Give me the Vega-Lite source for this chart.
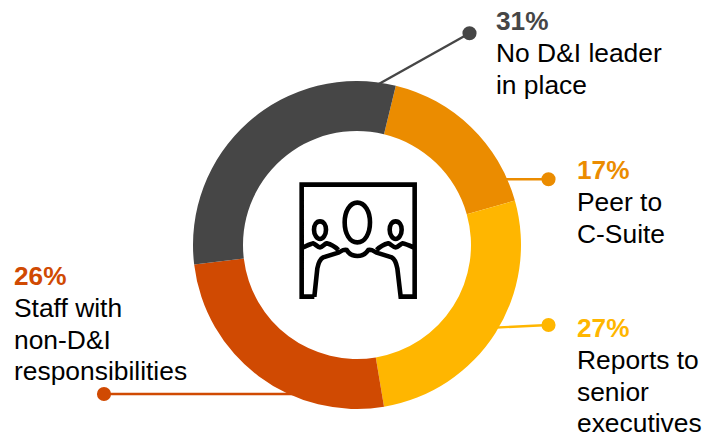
{
  "$schema": "https://vega.github.io/schema/vega-lite/v6.json",
  "width": 719,
  "height": 434,
  "padding": 0,
  "autosize": "none",
  "background": "white",
  "config": {"view": {"stroke": null}},
  "data": {
    "values": [
      {"category": "Peer to\nC-Suite", "share": 0.17, "rank": 1, "labelX": 220, "labelY": 66, "dotX": 191.5, "dotY": 65.7, "lineX": 130, "lineY": 65.7},
      {"category": "Reports to\nsenior\nexecutives", "share": 0.27, "rank": 2, "labelX": 220, "labelY": -92, "dotX": 191.5, "dotY": -80, "lineX": 130, "lineY": -83},
      {"category": "Staff with\nnon-D&I\nresponsibilities", "share": 0.26, "rank": 3, "labelX": -343, "labelY": -40, "dotX": -253, "dotY": -149, "lineX": -60, "lineY": -149},
      {"category": "No D&I leader\nin place", "share": 0.31, "rank": 4, "labelX": 139, "labelY": 215, "dotX": 112.5, "dotY": 211.7, "lineX": 20, "lineY": 160}
    ]
  },
  "encoding": {
    "color": {
      "field": "category",
      "type": "nominal",
      "legend": null,
      "scale": {
        "domain": ["Peer to\nC-Suite", "Reports to\nsenior\nexecutives", "Staff with\nnon-D&I\nresponsibilities", "No D&I leader\nin place"],
        "range": ["#EB8C00", "#FFB600", "#D04A02", "#464646"]
      }
    }
  },
  "layer": [
    {
      "mark": {"type": "rule", "strokeWidth": 2.4},
      "encoding": {
        "x": {"field": "lineX", "type": "quantitative", "axis": null, "scale": {"domain": [-357, 362], "nice": false, "zero": false}},
        "y": {"field": "lineY", "type": "quantitative", "axis": null, "scale": {"domain": [-189, 245], "nice": false, "zero": false}},
        "x2": {"field": "dotX"},
        "y2": {"field": "dotY"}
      }
    },
    {
      "mark": {"type": "arc", "innerRadius": 114, "outerRadius": 164},
      "encoding": {
        "x": {"datum": 0, "type": "quantitative"},
        "y": {"datum": 0, "type": "quantitative"},
        "theta": {"field": "share", "type": "quantitative", "stack": true, "scale": {"range": [0.239, 6.522]}},
        "order": {"field": "rank", "type": "quantitative"}
      }
    },
    {
      "mark": {"type": "point", "filled": true, "opacity": 1, "size": 200},
      "encoding": {
        "x": {"field": "dotX", "type": "quantitative"},
        "y": {"field": "dotY", "type": "quantitative"}
      }
    },
    {
      "mark": {"type": "text", "align": "left", "baseline": "alphabetic", "font": "Liberation Sans", "fontSize": 26.2, "fontWeight": "bold"},
      "encoding": {
        "x": {"field": "labelX", "type": "quantitative"},
        "y": {"field": "labelY", "type": "quantitative"},
        "text": {"field": "share", "type": "quantitative", "format": ".0%"}
      }
    },
    {
      "mark": {"type": "text", "align": "left", "baseline": "alphabetic", "font": "Liberation Sans", "fontSize": 26.4, "dy": 32, "lineBreak": "\n", "lineHeight": 31.7},
      "encoding": {
        "x": {"field": "labelX", "type": "quantitative"},
        "y": {"field": "labelY", "type": "quantitative"},
        "text": {"field": "category", "type": "nominal"},
        "color": {"value": "#000000"}
      }
    },
    {
      "data": {"values": [{"icon": "meeting room", "cx": 0, "cy": 0}]},
      "mark": {
        "type": "point",
        "filled": false,
        "opacity": 1,
        "size": 0.4444,
        "stroke": "#000000",
        "strokeWidth": 4.6,
        "shape": "M-128 155 L-166 155 L-166 -181 L173 -181 L173 155 L131 155 L121 70 C118 55 114 42 104 37 L59 23 C52 20 44 12 34 15 C24 30 12 33 1 33 C-10 33 -22 30 -31 15 C-41 12 -49 20 -56 23 L-101 37 C-110 42 -116 55 -119 70 L-128 155 M-162 7 C-150 2 -140 -3 -131 -5 C-125 -3 -118 7 -111 7 C-104 7 -98 -3 -91 -5 C-78 -2 -65 6 -56 15 M59 15 C68 6 81 -2 94 -5 C101 -3 109 7 116 7 C123 7 130 -3 136 -5 C147 -3 158 2 169 7 M1 -127 C-22 -127 -37 -100 -37 -68 C-37 -34 -22 -8 1 -8 C24 -8 39 -34 39 -68 C39 -100 24 -127 1 -127 Z M-111 -71 C-122 -71 -129 -60 -129 -46 C-129 -31 -120 -18 -111 -18 C-102 -18 -93 -31 -93 -46 C-93 -60 -100 -71 -111 -71 Z M116 -71 C105 -71 98 -60 98 -46 C98 -31 107 -18 116 -18 C125 -18 134 -31 134 -46 C134 -60 127 -71 116 -71 Z"
      },
      "encoding": {
        "x": {"field": "cx", "type": "quantitative"},
        "y": {"field": "cy", "type": "quantitative"},
        "color": {"value": null}
      }
    }
  ]
}
